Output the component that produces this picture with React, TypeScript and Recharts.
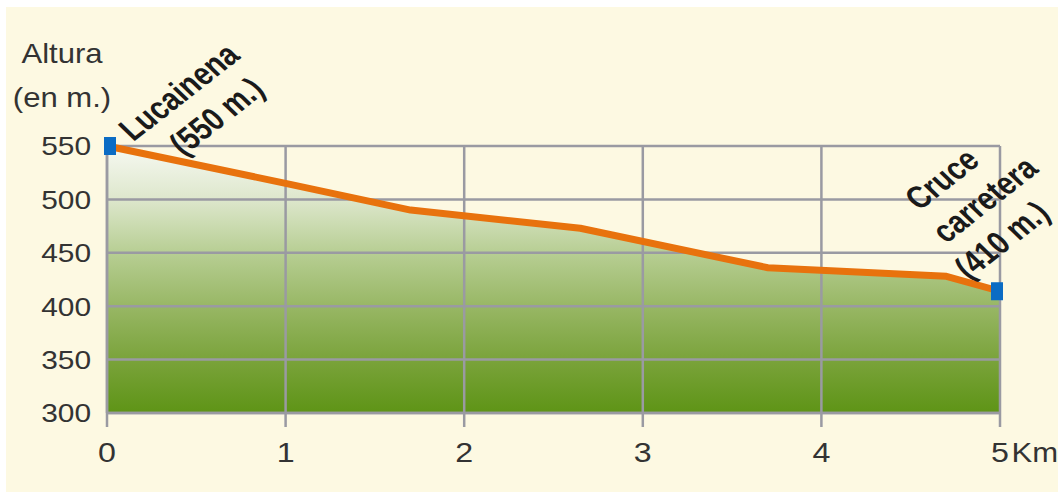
import { ComposedChart, Area, Line, XAxis, YAxis, ReferenceLine, Label } from 'recharts';

// perfil de altura: distancia (km) y altura (m)
const distanceKm = [0, 1, 1.7, 2.65, 3.7, 4.7, 5];
const altitudeM = [550, 515, 490, 473, 436, 428, 414];

const kmTicks = [0, 1, 2, 3, 4, 5];
const altTicks = [300, 350, 400, 450, 500, 550];

const startLabel = ['Lucainena', '(550 m.)'];
const endLabel = ['Cruce', 'carretera', '(410 m.)'];
const yTitle = ['Altura', '(en m.)'];
const xUnit = 'Km';

const data = distanceKm.map((km, i) => ({ km, alt: altitudeM[i] }));

const STRETCH = 1.15;
const TEXT = '#333';
const GRID = '#9a9aa2';
const FONT = '"Liberation Sans", Arial, Helvetica, sans-serif';

function YTick({ x, y, payload }: any) {
  return (
    <text
      transform={`translate(${x},${y}) scale(${STRETCH},1)`}
      textAnchor="end"
      dy="0.36em"
      fontSize={26}
      fill={TEXT}
      fontFamily={FONT}
    >
      {payload.value}
    </text>
  );
}

function XTick({ x, y, payload }: any) {
  const last = payload.value === kmTicks[kmTicks.length - 1];
  return (
    <g transform={`translate(${x},${y}) scale(${STRETCH},1)`} fill={TEXT} fontFamily={FONT} fontSize={28}>
      <text textAnchor="middle" y={20}>{payload.value}</text>
      {last && <text x={10} y={20} fontSize={27}>{xUnit}</text>}
    </g>
  );
}

function YTitle({ viewBox }: any) {
  const cx = viewBox.x + 56;
  return (
    <g fill={TEXT} fontFamily={FONT} fontSize={27}>
      <text transform={`translate(${cx},${viewBox.y - 83}) scale(${STRETCH},1)`} textAnchor="middle">{yTitle[0]}</text>
      <text transform={`translate(${cx},${viewBox.y - 39}) scale(${STRETCH},1)`} textAnchor="middle">{yTitle[1]}</text>
    </g>
  );
}

function EndMarker(props: any) {
  const { cx, cy, index } = props;
  const first = index === 0;
  const last = index === data.length - 1;
  if (!first && !last) return <g key={index} />;
  const lines = first ? startLabel : endLabel;
  const ox = first ? 72 : -58;
  const oy = first ? -54 : -112;
  const shifts = first ? [0, 8] : [0, 14, -2];
  return (
    <g key={index}>
      <rect x={cx + (first ? -3 : -9)} y={cy - 9} width={12} height={18} fill="#0b6cc4" />
      <g transform={`translate(${cx + ox},${cy + oy}) scale(${STRETCH},1) rotate(-42)`}>
        {lines.map((t, i) => (
          <text
            key={t}
            transform={`translate(${shifts[i]},${i * 40}) scale(0.8,1)`}
            textAnchor="middle"
            dominantBaseline="central"
            fontFamily={FONT}
            fontWeight="bold"
            fontSize={32}
            fill="#1a1a1a"
          >
            {t}
          </text>
        ))}
      </g>
    </g>
  );
}

export default function App() {
  return (
    <div style={{ position: 'absolute', left: 0, top: 0, width: 1058, height: 494, background: '#fff' }}>
      <div style={{ position: 'absolute', left: 6, top: 7, width: 1052, height: 485, background: '#fdf9e2' }}>
        <ComposedChart width={1052} height={485} data={data} margin={{ top: 139, right: 58, bottom: 0, left: 0 }}>
          <defs>
            <linearGradient id="altGrad" x1="0" y1="0" x2="0" y2="1">
              <stop offset="0%" stopColor="#f7f9f2" />
              <stop offset="20%" stopColor="#dde7cc" />
              <stop offset="40%" stopColor="#b7ce93" />
              <stop offset="60%" stopColor="#98b765" />
              <stop offset="80%" stopColor="#7aa33b" />
              <stop offset="100%" stopColor="#5e9416" />
            </linearGradient>
          </defs>
          <XAxis
            dataKey="km"
            type="number"
            domain={[0, 5]}
            ticks={kmTicks}
            height={79}
            axisLine={{ stroke: GRID, strokeWidth: 2.5 }}
            tickLine={{ stroke: GRID, strokeWidth: 2.5 }}
            tickSize={14}
            tickMargin={15}
            tick={<XTick />}
            interval={0}
          />
          <YAxis
            type="number"
            domain={[300, 550]}
            ticks={altTicks}
            width={101}
            axisLine={{ stroke: GRID, strokeWidth: 2.5 }}
            tickLine={false}
            tickSize={0}
            tickMargin={16}
            tick={<YTick />}
            interval={0}
          >
            <Label content={<YTitle />} />
          </YAxis>
          <Area
            dataKey="alt"
            type="linear"
            stroke="none"
            fill="url(#altGrad)"
            fillOpacity={1}
            isAnimationActive={false}
            activeDot={false}
          />
          {kmTicks.map((k) => (
            <ReferenceLine key={`x${k}`} x={k} stroke={GRID} strokeWidth={2.5} />
          ))}
          {altTicks.map((a) => (
            <ReferenceLine key={`y${a}`} y={a} stroke={GRID} strokeWidth={2.5} />
          ))}
          <Line
            dataKey="alt"
            type="linear"
            stroke="#e8720d"
            strokeWidth={7}
            strokeLinejoin="round"
            dot={<EndMarker />}
            activeDot={false}
            isAnimationActive={false}
          />
        </ComposedChart>
      </div>
    </div>
  );
}
